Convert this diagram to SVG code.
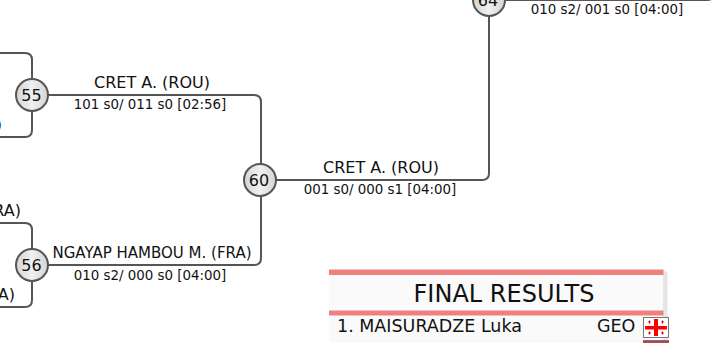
<svg xmlns="http://www.w3.org/2000/svg" width="716" height="343" viewBox="0 0 716 343">
<defs>
<linearGradient id="g" x1="0" y1="0" x2="1" y2="0"><stop offset="0" stop-color="#d4d4d4"/><stop offset="0.5" stop-color="#f0f0f0"/><stop offset="1" stop-color="#d4d4d4"/></linearGradient>
</defs>
<style>
text{font-family:"DejaVu Sans",sans-serif;fill:#111}
.c{fill:none;stroke:#555;stroke-width:2}
.n circle{fill:url(#g);stroke:#555;stroke-width:2}
.n text{font-size:16px;text-anchor:middle}
.p{font-size:16px;text-anchor:middle}
.s{font-size:13.4px;text-anchor:middle}
.bar{fill:#f08080}
.r{font-size:17.5px}
</style>
<rect width="716" height="343" fill="#fff"/>
<g id="connectors">
<path class="c" d="M0 53H25Q32 53 32 60V130Q32 137 25 137H0"/>
<path class="c" d="M0 223H25Q32 223 32 230V300Q32 307 25 307H0"/>
<path class="c" d="M32 95H254Q261 95 261 102V258Q261 265 254 265H32"/>
<path class="c" d="M261 180H482Q489 180 489 173V0"/>
<path class="c" d="M489 0H707Q714 0 714 -7"/>
</g>
<g id="node55" class="n"><circle cx="32" cy="95" r="16"/><text x="31.500" y="100.500">55</text></g>
<g id="node56" class="n"><circle cx="32" cy="265" r="16"/><text x="31.500" y="270.500">56</text></g>
<g id="node60" class="n"><circle cx="260" cy="180" r="16"/><text x="259" y="185.500">60</text></g>
<g id="node64" class="n"><circle cx="489" cy="0" r="16"/><text x="488" y="5.500">64</text></g>
<g id="labels">
<text class="p" x="152" y="88">CRET A. (ROU)</text>
<text class="s" x="150" y="109">101 s0/ 011 s0 [02:56]</text>
<text class="p" x="152" y="258" textLength="199" lengthAdjust="spacingAndGlyphs" style="font-size:15px">NGAYAP HAMBOU M. (FRA)</text>
<text class="s" x="150" y="280">010 s2/ 000 s0 [04:00]</text>
<text class="p" x="381" y="173">CRET A. (ROU)</text>
<text class="s" x="380" y="194">001 s0/ 000 s1 [04:00]</text>
<text class="s" x="607" y="14">010 s2/ 001 s0 [04:00]</text>
<text class="p" style="text-anchor:end" x="2" y="130">)</text>
<text class="p" style="text-anchor:end" x="21" y="216">RA)</text>
<text class="p" style="text-anchor:end" x="15" y="300">A)</text>
</g>
<g id="final-results">
<rect x="333" y="271" width="334.500" height="72" rx="3" fill="#e6e6e6"/>
<rect x="329" y="271" width="334" height="72" fill="#fafafa"/>
<rect class="bar" x="329" y="269.500" width="334.500" height="5.500"/>
<rect class="bar" x="329" y="310.500" width="334.500" height="5"/>
<text x="504" y="302" style="font-size:24px;text-anchor:middle">FINAL RESULTS</text>
<text class="r" x="337" y="332">1. MAISURADZE Luka</text>
<text class="r" x="597" y="332">GEO</text>
<rect x="643.500" y="317.500" width="25" height="20" fill="#fff" stroke="#777"/>
<rect x="645" y="326" width="22" height="3.500" fill="#f00"/>
<rect x="654" y="319" width="4" height="17" fill="#f00"/>
<path fill="#f00" d="M649 320.500h1v1h1v1h-1v1h-1v-1h-1v-1h1zM662 320.500h1v1h1v1h-1v1h-1v-1h-1v-1h1zM649 331.500h1v1h1v1h-1v1h-1v-1h-1v-1h1zM662 331.500h1v1h1v1h-1v1h-1v-1h-1v-1h1z"/>
<rect x="643" y="340" width="26" height="3" fill="#c04050"/>
<rect x="643" y="340" width="26" height="1" fill="#777"/>
</g>
</svg>
